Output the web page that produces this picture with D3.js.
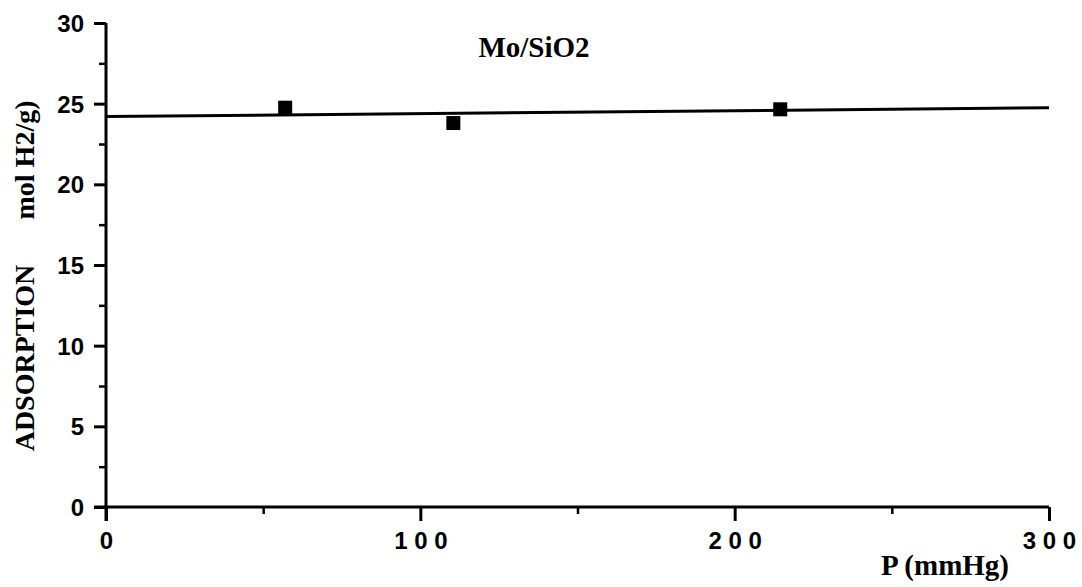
<!DOCTYPE html>
<html><head><meta charset="utf-8">
<script src="https://cdn.jsdelivr.net/npm/d3@7"></script>
<style>body{margin:0;background:#fff}</style>
</head><body>
<svg id="c" width="1082" height="587"></svg>
<script>
const xTicks = [0, 100, 200, 300];
const xMinor = [50, 150, 250];
const yTicks = [0, 5, 10, 15, 20, 25, 30];
const yMinor = [2.5, 7.5, 12.5, 17.5, 22.5, 27.5];
const pressure = [57, 110.5, 214.5];
const adsorption = [24.75, 23.8, 24.65];
const fitX = [0, 300];
const fitY = [24.2, 24.75];

const svg = d3.select("#c");
const x = d3.scaleLinear().domain([0, 300]).range([106, 1049]);
const y = d3.scaleLinear().domain([0, 30]).range([507, 23]);

const sans = "'Liberation Sans', Arial, sans-serif";
const serif = "'Liberation Serif', 'Times New Roman', serif";

// x axis
const xa = svg.append("g").attr("transform", `translate(0,${y(0)})`)
  .call(d3.axisBottom(x).tickValues(xTicks).tickSize(14).tickPadding(11)
    .tickFormat(d => String(d).split("").join(" ")));
xa.select(".domain").remove();
xa.selectAll(".tick line").attr("stroke", "#000").attr("stroke-width", 3);
xa.selectAll(".tick text").attr("font-family", sans).attr("font-weight", "bold")
  .attr("font-size", 24).attr("fill", "#000").attr("xml:space", "preserve");
const xm = svg.append("g").attr("transform", `translate(0,${y(0)})`)
  .call(d3.axisBottom(x).tickValues(xMinor).tickSize(7).tickFormat(""));
xm.select(".domain").remove();
xm.selectAll(".tick line").attr("stroke", "#000").attr("stroke-width", 2.5);

// y axis
const ya = svg.append("g").attr("transform", `translate(${x(0)},0)`)
  .call(d3.axisLeft(y).tickValues(yTicks).tickSize(12).tickPadding(10).tickFormat(d3.format("d")));
ya.select(".domain").remove();
ya.selectAll(".tick line").attr("stroke", "#000").attr("stroke-width", 3);
ya.selectAll(".tick text").attr("font-family", sans).attr("font-weight", "bold")
  .attr("font-size", 24).attr("fill", "#000").attr("dy", "0.36em");
const ym = svg.append("g").attr("transform", `translate(${x(0)},0)`)
  .call(d3.axisLeft(y).tickValues(yMinor).tickSize(7).tickFormat(""));
ym.select(".domain").remove();
ym.selectAll(".tick line").attr("stroke", "#000").attr("stroke-width", 2.5);

// axis lines
svg.append("line").attr("x1", x(0)).attr("x2", x(0)).attr("y1", y(30)).attr("y2", y(0) + 14)
  .attr("stroke", "#000").attr("stroke-width", 3);
svg.append("line").attr("x1", x(0) - 12).attr("x2", x(300)).attr("y1", y(0)).attr("y2", y(0))
  .attr("stroke", "#000").attr("stroke-width", 3);

// fit line
svg.append("path").datum(fitX.map((d, i) => [d, fitY[i]]))
  .attr("d", d3.line().x(d => x(d[0])).y(d => y(d[1])))
  .attr("stroke", "#000").attr("stroke-width", 3).attr("fill", "none");

// points
const s = 14;
svg.selectAll("rect.pt").data(pressure.map((d, i) => [d, adsorption[i]])).enter()
  .append("rect").attr("class", "pt")
  .attr("x", d => x(d[0]) - s / 2).attr("y", d => y(d[1]) - s / 2)
  .attr("width", s).attr("height", s).attr("fill", "#000");

// title
svg.append("text").attr("x", 534).attr("y", 57).attr("text-anchor", "middle")
  .attr("font-family", serif).attr("font-weight", "bold").attr("font-size", 29).text("Mo/SiO2");
// x label
svg.append("text").attr("x", 945).attr("y", 575).attr("text-anchor", "middle")
  .attr("font-family", serif).attr("font-weight", "bold").attr("font-size", 29).text("P (mmHg)");
// y label
svg.append("text").attr("transform", "translate(34,358) rotate(-90)").attr("text-anchor", "middle")
  .attr("font-family", serif).attr("font-weight", "bold").attr("font-size", 28).text("ADSORPTION");
svg.append("text").attr("transform", "translate(34,160) rotate(-90)").attr("text-anchor", "middle")
  .attr("font-family", serif).attr("font-weight", "bold").attr("font-size", 28).text("mol H2/g)");
</script>
</body></html>
